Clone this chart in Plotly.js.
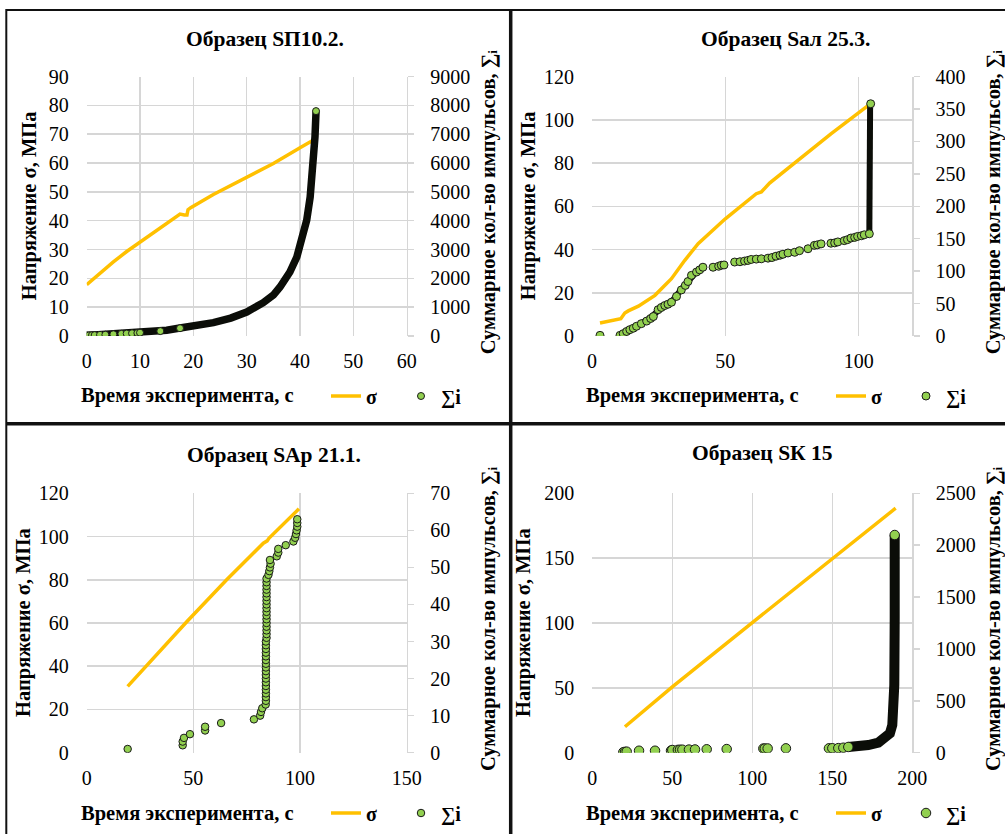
<!DOCTYPE html>
<html><head><meta charset="utf-8">
<script src="https://cdn.plot.ly/plotly-3.0.1.min.js"></script>
<style>html,body{margin:0;padding:0;background:#fff}#chart{width:1005px;height:834px}</style>
</head><body><div id="chart"></div><script>
// ---------- Panel 1: Образец SП10.2. ----------
const p1_title = 'Образец SП10.2.';
const p1_sigma_t = [0, 2.5, 5, 7.5, 10, 14.4, 17.5, 18.3, 18.8, 19.0, 19.5, 23.75, 30, 35, 40, 42.2];
const p1_sigma   = [17.8, 21.9, 25.7, 29.3, 32.6, 38.4, 42.3, 42.0, 42.0, 43.8, 44.5, 49.1, 55.1, 59.8, 65.3, 67.6];
const p1_sum_t   = [0, 0.5, 1, 1.5, 2.5, 3.5, 5, 6.5, 7.5, 8.5, 9.5, 10, 13.8, 17.5, 43];
const p1_sum     = [25, 25, 30, 30, 40, 45, 60, 75, 85, 95, 105, 115, 170, 270, 7800];
const p1_dense_t = [0, 5, 10, 15, 17.5, 20, 23.75, 27, 30, 33.1, 35, 36.25, 38.1, 39.4, 40.6, 41.25, 41.9, 42.5, 42.8, 43];
const p1_dense   = [20, 60, 116, 200, 277, 330, 462, 620, 832, 1156, 1420, 1700, 2220, 2740, 3433, 4011, 4820, 5977, 6900, 7780];

// ---------- Panel 2: Образец Saл 25.3. ----------
const p2_title = 'Образец Saл 25.3.';
const p2_sigma_t = [3, 10.8, 12.3, 13.6, 17.4, 23.6, 29.8, 34.8, 39.8, 50, 61.6, 63.5, 66.6, 77.2, 89.6, 104];
const p2_sigma   = [6, 8, 10.6, 11.6, 13.8, 18.8, 26.5, 35, 42.7, 54.2, 65.8, 66.6, 70.7, 81.2, 93.5, 107];
const p2_sum_t = [3, 10.5, 11.7, 13, 14.2, 15.5, 16.7, 18.5, 20.5, 22, 23, 24.8, 26, 27.3, 28.5, 29.8, 31.7, 33.5, 35, 36, 37.3, 39.2, 40.4, 41.6,
                  45.4, 47.5, 48.5, 49.5, 53.5, 55.5, 57.2, 58.5, 59.7, 61.6, 63.5, 66, 67.5, 69, 70.5, 71.6, 73.5, 76, 77.8, 81, 83.4, 84.5, 85.9,
                  89.6, 91, 92.2, 94.6, 95.8, 97.1, 98.5, 99.6, 101, 102.1, 104, 104.5];
const p2_sum   = [1, 1, 3.6, 7, 9.8, 12, 15, 19, 23, 27, 30, 40.6, 44, 47, 49, 52, 61, 71, 78, 84, 93.5, 98.6, 102, 106,
                  106, 107.5, 109, 109.5, 114, 114.5, 115.5, 116.5, 118, 118.5, 119, 120, 121, 123, 124.5, 126, 128, 129, 131.5, 134.5, 139.7, 140.5, 142,
                  143, 143.5, 145, 147, 148.5, 151, 152, 153.5, 154.5, 156, 157.6, 358];
const p2_dense_t = [10.5, 14, 18, 22, 24.5, 28, 30.5, 33.5, 36, 38.5, 41, null, 104, 104.3, 104.3];
const p2_dense   = [1, 9, 18, 28, 38, 48, 56, 72, 84, 96, 104, null, 157, 250, 358];

// ---------- Panel 3: Образец SAp 21.1. ----------
const p3_title = 'Образец SAp 21.1.';
const p3_sigma_t = [19.2, 46.9, 65.6, 82.8, 84.6, 85.4, 99.5];
const p3_sigma   = [30.7, 60.6, 80, 96.9, 98.0, 99.2, 112.8];
const p3_sum_t = [19.2, 45, 45, 45.6, 48.4, 55.5, 55.5, 63, 78.4, 81.3, 81.7, 82.3, 83.9,
                  84.0, 84.0, 84.0, 84.0, 84.0, 84.0, 84.0, 84.0, 84.0, 84.0, 84.0, 84.0, 84.0, 84.0, 84.0, 84.0, 84.0,
                  84.3, 84.3, 84.3, 84.3, 84.3, 84.3, 84.3, 84.3, 84.3, 84.3, 84.3, 84.3, 84.3, 84.3, 84.3, 84.3, 84.3,
                  85.2, 85.6, 85.9, 86.2, 85.9, 89.1, 89.8, 89.8, 93.3, 96.9, 97.7, 98.1, 98.4, 98.7, 98.7, 98.7];
const p3_sum   = [1, 2, 3, 4, 5, 6, 7, 8, 9, 10, 11, 12, 13,
                  14, 15, 16, 17, 18, 19, 20, 21, 22, 23, 24, 25, 26, 27, 28, 29, 30,
                  31, 32, 33, 34, 35, 36, 37, 38, 39, 40, 41, 42, 43, 44, 45, 46, 47,
                  48, 49, 50, 51, 52, 53, 54, 55, 56, 57, 58, 59, 60, 61, 62, 63];

// ---------- Panel 4: Образец SK 15 ----------
const p4_title = 'Образец SК 15';
const p4_sigma_t = [20.4, 50, 100, 150, 189.6];
const p4_sigma   = [20, 50.8, 100.3, 150, 188.5];
const p4_sum_t = [19.4, 20.5, 21.5, 29.2, 39.2, 49.2, 50, 53.5, 54.8, 56.3, 60.4, 64.2, 71.5, 84, 106.9, 107.8, 109.6, 121, 147.9, 150, 153.75, 156.9, 160, 189];
const p4_sum   = [5, 8, 10, 19, 19, 20, 26, 27, 28, 29, 30, 31, 33, 35, 40, 40, 41, 42, 42, 43, 44, 48, 55, 2098];
const p4_dense_t = [160, 166.25, 172.5, 178.75, 182.9, 186, 187.5, 188.3, 188.75, 189, 189];
const p4_dense   = [55, 58, 74, 96, 132, 186, 267, 427, 652, 1295, 2098];

// ---------- texts ----------
const xTitle = 'Время эксперимента, с';
const yLeftTitle = 'Напряжение σ, МПа';
const yRightTitle = 'Суммарное кол-во импульсов, ∑ᵢ';
const sigmaName = 'σ';
const sumName = '∑i';

const W = 1005, H = 834;
const fx = p => p / W, fy = p => 1 - p / H;
const ORANGE = '#FFC000', GREEN = '#92D050', GRID = '#d6d6d6';
const FONT = '"Liberation Serif", "Times New Roman", serif';

const panels = [
  {title: p1_title, st: p1_sigma_t, s: p1_sigma, it: p1_sum_t, i: p1_sum, dt: p1_dense_t, d: p1_dense,
   xr: [0, 60], xd: 10, lr: [0, 90], ld: 10, rr: [0, 9000], rd: 1000,
   box: [86.7, 406.7, 76.5, 336], ms: 7, dw: 7.5, titlePos: [265, 39], xtPos: [187, 396], ltX: 29, rtX: 488, legX: 326, legY: 396, dense: true},
  {title: p2_title, st: p2_sigma_t, s: p2_sigma, it: p2_sum_t, i: p2_sum, dt: p2_dense_t, d: p2_dense,
   xr: [0, 120], xd: 50, lr: [0, 120], ld: 20, rr: [0, 400], rd: 50,
   box: [592, 912, 76.5, 336], ms: 8, dw: 6, titlePos: [785, 39], xtPos: [692, 396], ltX: 528, rtX: 993, legX: 831, legY: 396, dense: true},
  {title: p3_title, st: p3_sigma_t, s: p3_sigma, it: p3_sum_t, i: p3_sum, dt: null, d: null,
   xr: [0, 150], xd: 50, lr: [0, 120], ld: 20, rr: [0, 70], rd: 10,
   box: [86.7, 406.7, 493.3, 752.7], ms: 7.5, dw: 0, titlePos: [274, 455], xtPos: [187, 813], ltX: 23, rtX: 488, legX: 326, legY: 813, dense: false},
  {title: p4_title, st: p4_sigma_t, s: p4_sigma, it: p4_sum_t, i: p4_sum, dt: p4_dense_t, d: p4_dense,
   xr: [0, 200], xd: 50, lr: [0, 200], ld: 50, rr: [0, 2500], rd: 500,
   box: [592.3, 912.3, 493.3, 752.7], ms: 9.5, dw: 10, titlePos: [762, 453], xtPos: [692, 813], ltX: 523, rtX: 993, legX: 831, legY: 813, dense: true}
];

const data = [];
const layout = {
  width: W, height: H, autosize: false,
  margin: {l: 0, r: 0, t: 0, b: 0},
  paper_bgcolor: '#fff', plot_bgcolor: '#fff',
  font: {family: FONT, size: 20, color: '#000'},
  hovermode: false,
  annotations: [], shapes: []
};

panels.forEach((p, k) => {
  const n = k + 1;
  const xa = n === 1 ? 'x' : 'x' + n;
  const yl = 'y' + (2 * n - 1 === 1 ? '' : (2 * n - 1));
  const yr = 'y' + (2 * n);
  const lg = n === 1 ? 'legend' : 'legend' + n;
  const tickFont = {family: FONT, size: 20, color: '#000'};
  const boldFont = {family: FONT, size: 20.5, color: '#000', weight: 'bold'};

  layout['xaxis' + (n === 1 ? '' : n)] = {
    domain: [fx(p.box[0]), fx(p.box[1])], anchor: yl, range: p.xr, dtick: p.xd, tick0: 0,
    showgrid: true, gridcolor: GRID, gridwidth: 1.5, zeroline: false, showline: false,
    ticks: '', ticklabelstandoff: 11, tickfont: tickFont, fixedrange: true
  };
  layout['yaxis' + (2 * n - 1 === 1 ? '' : (2 * n - 1))] = {
    domain: [fy(p.box[3]), fy(p.box[2])], anchor: xa, range: p.lr, dtick: p.ld, tick0: 0,
    showgrid: true, gridcolor: GRID, gridwidth: 1.5, zeroline: false, showline: false,
    ticks: '', ticklabelstandoff: 17, tickfont: tickFont, fixedrange: true
  };
  layout['yaxis' + (2 * n)] = {
    overlaying: yl, side: 'right', anchor: xa, range: p.rr, dtick: p.rd, tick0: 0,
    showgrid: false, zeroline: false, showline: true, linecolor: GRID, linewidth: 1.5,
    ticks: 'outside', ticklen: 6, tickcolor: GRID, tickwidth: 1.5, ticklabelstandoff: 12,
    tickfont: tickFont, fixedrange: true
  };

  if (p.dense) {
    data.push({type: 'scatter', mode: 'lines', x: p.dt, y: p.d, xaxis: xa, yaxis: yr,
      line: {color: '#0b0d08', width: p.dw, shape: 'linear'}, connectgaps: false,
      showlegend: false, hoverinfo: 'skip'});
  }
  data.push({type: 'scatter', mode: 'lines', name: sigmaName, x: p.st, y: p.s, xaxis: xa, yaxis: yl,
    line: {color: ORANGE, width: 3.5}, legend: lg});
  data.push({type: 'scatter', mode: 'markers', name: sumName, x: p.it, y: p.i, xaxis: xa, yaxis: yr,
    marker: {color: GREEN, size: p.ms, line: {color: '#1a1a1a', width: 1}}, legend: lg});

  layout[lg] = {
    orientation: 'h', x: fx(p.legX), y: fy(p.legY), xanchor: 'left', yanchor: 'middle',
    bgcolor: 'rgba(0,0,0,0)', font: {family: FONT, size: 20, color: '#000', weight: 'bold'},
    entrywidth: 30, entrywidthmode: 'pixels', itemclick: false, itemdoubleclick: false
  };

  layout.annotations.push(
    {text: p.title, xref: 'paper', yref: 'paper', x: fx(p.titlePos[0]), y: fy(p.titlePos[1]),
     xanchor: 'center', yanchor: 'middle', showarrow: false, font: {family: FONT, size: 21.5, color: '#000', weight: 'bold'}},
    {text: xTitle, xref: 'paper', yref: 'paper', x: fx(p.xtPos[0]), y: fy(p.xtPos[1]),
     xanchor: 'center', yanchor: 'middle', showarrow: false, font: boldFont},
    {text: yLeftTitle, xref: 'paper', yref: 'paper', x: fx(p.ltX), y: fy((p.box[2] + p.box[3]) / 2),
     xanchor: 'center', yanchor: 'middle', textangle: -90, showarrow: false, font: boldFont},
    {text: yRightTitle, xref: 'paper', yref: 'paper', x: fx(p.rtX), y: fy((p.box[2] + p.box[3]) / 2 - 4),
     xanchor: 'center', yanchor: 'middle', textangle: -90, showarrow: false, font: boldFont}
  );
});

// panel frame lines
layout.shapes.push(
  {type: 'line', xref: 'paper', yref: 'paper', x0: fx(6), x1: 1, y0: fy(10), y1: fy(10), line: {color: '#111', width: 2}},
  {type: 'line', xref: 'paper', yref: 'paper', x0: fx(6.3), x1: fx(6.3), y0: fy(9), y1: 0, line: {color: '#111', width: 2}},
  {type: 'line', xref: 'paper', yref: 'paper', x0: fx(510.7), x1: fx(510.7), y0: fy(9), y1: 0, line: {color: '#111', width: 3.5}},
  {type: 'line', xref: 'paper', yref: 'paper', x0: fx(6), x1: 1, y0: fy(423.8), y1: fy(423.8), line: {color: '#111', width: 3.5}}
);

Plotly.newPlot('chart', data, layout, {displayModeBar: false, staticPlot: true});
</script></body></html>
